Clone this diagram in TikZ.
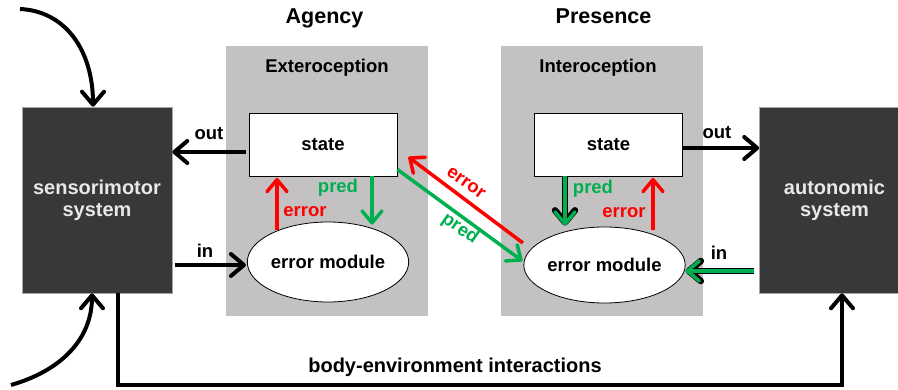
\documentclass[tikz,border=0pt]{standalone}
\usepackage{fontspec}
\setmainfont{Liberation Sans}
\usetikzlibrary{arrows.meta,shapes.geometric,calc}
\definecolor{darkbox}{HTML}{383838}
\definecolor{panelgray}{HTML}{C3C1C2}
\definecolor{myred}{HTML}{FF0000}
\definecolor{mygreen}{HTML}{00B050}
\definecolor{boxtext}{HTML}{E8E8E8}
\begin{document}
\begin{tikzpicture}[x=1pt,y=-1pt,
  lbl/.style={font=\fontsize{18.5}{22}\selectfont\bfseries, inner sep=0pt, anchor=base},
  titletext/.style={font=\fontsize{21.5}{26}\selectfont\bfseries, inner sep=0pt, anchor=base},
  sysbox/.style={rectangle, fill=darkbox, draw=gray!70, line width=0.6pt, text=boxtext, align=center,
    font=\fontsize{20}{22}\selectfont\bfseries, inner sep=0pt, minimum width=150pt, minimum height=186pt},
  panelbox/.style={rectangle, fill=panelgray, draw=none, inner sep=0pt, minimum width=202pt, minimum height=270pt},
  statebox/.style={rectangle, fill=white, draw=black, line width=0.8pt, inner sep=0pt,
    minimum width=148pt, minimum height=63pt, font=\fontsize{18.5}{22}\selectfont\bfseries},
  errmod/.style={ellipse, fill=white, draw=black, line width=0.8pt, inner sep=0pt,
    minimum width=152pt, font=\fontsize{18.5}{22}\selectfont\bfseries},
  barrow/.style={draw=black, line width=4pt, -{Straight Barb[length=13pt,width=22pt,round]}},
  rarrow/.style={draw=myred, line width=3.5pt, -{Straight Barb[length=12pt,width=20pt,round]}},
  garrow/.style={draw=mygreen, line width=3.5pt, -{Straight Barb[length=12pt,width=20pt,round]}},
  goutline/.style={draw=black, line width=6.5pt, -{Straight Barb[length=12pt,width=20pt,round]}},
  redtext/.style={lbl, text=myred},
  greentext/.style={lbl, text=mygreen},
]
\useasboundingbox (0,0) rectangle (898,390);
\fill[white] (0,0) rectangle (898,390);

% panels
\node[panelbox] (p1) at (327,181) {};
\node[panelbox] (p2) at (602,181) {};

% titles
\node[titletext] (tag) at (324.5,23.5) {Agency};
\node[titletext] (tpr) at (603.5,23.5) {Presence};
\node[lbl] (ext) at (327,73) {Exteroception};
\node[lbl] (int) at (598,73) {Interoception};

% system boxes
\node[sysbox] (sm) at (97,200) {sensorimotor\\system};
\node[sysbox] (au) at (834.5,200) {autonomic\\system};

% state and error modules
\node[statebox] (st1) at (323,144.5) {state};
\node[statebox] (st2) at (608.5,144.5) {state};
\node[errmod, minimum height=80pt] (em1) at (328,262) {error module};
\node[errmod, minimum height=76pt] (em2) at (604.5,265) {error module};

% out / in, left
\draw[barrow] ($(st1.west)+(-3,7.5)$) -- ($(sm.east)+(0,-48)$);
\node[lbl] (outl) at (209,140) {out};
\draw[barrow] ($(sm.east)+(3,65)$) -- ($(em1.west)+(-1,3)$);
\node[lbl] (inl) at (205,258) {in};

% exteroception internal
\draw[rarrow] ($(em1.north)+(-51,8)$) -- ($(st1.south)+(-46,1.5)$);
\node[redtext] (e1) at (305,216.5) {error};
\draw[garrow] ($(st1.south)+(49,0)$) -- ($(em1.north)+(44,3)$);
\node[greentext] (pr1) at (338,193) {pred};

% diagonal
\draw[rarrow] ($(em2.west)+(-0.5,-22)$) -- ($(st1.east)+(11,12.5)$);
\node[lbl, text=myred, anchor=center, rotate=-35] (e2) at (466,183) {error};
\draw[garrow] ($(st1.east)+(0,25)$) -- ($(em2.west)+(-1,-4)$);
\node[lbl, text=mygreen, anchor=center, rotate=-35] (pr2) at (460,229) {pred};

% interoception internal
\draw[goutline] ($(st2.south)+(-43.5,0)$) -- ($(em2.north)+(-39.5,-1)$);
\draw[garrow] ($(st2.south)+(-43.5,0)$) -- ($(em2.north)+(-39.5,-1)$);
\node[greentext] (pr3) at (593,194) {pred};
\draw[rarrow] ($(em2.north)+(48.5,3)$) -- ($(st2.south)+(44.5,1.5)$);
\node[redtext] (e3) at (624,217.5) {error};

% out / in, right
\draw[barrow] ($(st2.east)+(0,3.5)$) -- ($(au.west)+(0,-52)$);
\node[lbl] (outr) at (717,139) {out};
\draw[goutline] ($(au.west)+(-5,71)$) -- ($(em2.east)+(0,6)$);
\draw[garrow] ($(au.west)+(-5,71)$) -- ($(em2.east)+(0,6)$);
\node[lbl] (inr) at (719,260) {in};

% external curved inputs
\coordinate (c1) at (20,9);
\coordinate (c2) at (11,385);
\draw[barrow] (c1) .. controls (65,11) and (93,50) .. ($(sm.north)+(-4,0)$);
\draw[barrow] (c2) .. controls (60,371) and (92,340) .. ($(sm.south)+(-5,0)$);

% body-environment loop
\draw[barrow, line join=miter] ($(sm.south)+(21,0)$) -- ++(0,92) -| ($(au.south)+(7.5,0)$);
\node[font=\fontsize{20}{24}\selectfont\bfseries, inner sep=0pt, anchor=base] (bei) at (455,373) {body-environment interactions};
\end{tikzpicture}
\end{document}
